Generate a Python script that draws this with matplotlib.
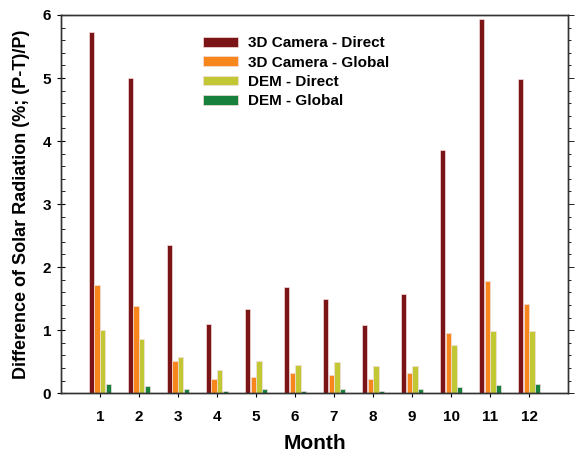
import matplotlib.pyplot as plt
import numpy as np

plt.rcParams['font.family'] = ['Liberation Sans', 'DejaVu Sans']
plt.rcParams['font.weight'] = 'bold'

months = [1, 2, 3, 4, 5, 6, 7, 8, 9, 10, 11, 12]
cam_direct = [5.73, 5.00, 2.35, 1.09, 1.33, 1.68, 1.50, 1.08, 1.58, 3.86, 5.93, 4.99]
cam_global = [1.72, 1.39, 0.51, 0.23, 0.25, 0.32, 0.29, 0.23, 0.32, 0.96, 1.78, 1.42]
dem_direct = [1.00, 0.86, 0.58, 0.36, 0.51, 0.45, 0.49, 0.43, 0.43, 0.76, 0.98, 0.98]
dem_global = [0.14, 0.11, 0.07, 0.04, 0.06, 0.04, 0.06, 0.04, 0.06, 0.10, 0.13, 0.14]

series = [cam_direct, cam_global, dem_direct, dem_global]
labels = ['3D Camera - Direct', '3D Camera - Global', 'DEM - Direct', 'DEM - Global']
colors = ['#7a1416', '#f7861d', '#c2c734', '#17803d']

fig = plt.figure(figsize=(5.75, 4.54), dpi=100)
ax = fig.add_axes([0.106, 0.134, 0.882, 0.833])

x = np.array(months)
w = 0.15
for i, (vals, lab, c) in enumerate(zip(series, labels, colors)):
    ax.bar(x + (i - 1.5) * w, vals, width=w * 0.88, color=c, label=lab,
           edgecolor='#f3dede', linewidth=0.5)

ax.set_xlim(0, 13)
ax.set_ylim(0, 6)
ax.set_xticks(months)
ax.set_xticklabels([str(m) for m in months], fontsize=11, fontweight='bold')
ax.set_yticks([0, 1, 2, 3, 4, 5, 6])
ax.set_yticklabels(['0', '1', '2', '3', '4', '5', '6'], fontsize=11, fontweight='bold')
ax.set_yticks(np.arange(0, 6.01, 0.2), minor=True)
ax.tick_params(axis='y', which='major', direction='inout', length=6, width=0.8, pad=4)
ax.tick_params(axis='y', which='minor', direction='in', length=3, width=0.6)
ax.tick_params(axis='x', direction='out', length=3, width=0.8, pad=9)

ax2 = ax.twinx()
ax2.set_ylim(0, 6)
ax2.set_yticks([0, 1, 2, 3, 4, 5, 6])
ax2.set_yticks(np.arange(0, 6.01, 0.2), minor=True)
ax2.set_yticklabels([])
ax2.tick_params(axis='y', which='major', direction='out', length=4, width=0.6)
ax2.tick_params(axis='y', which='minor', direction='out', length=2.5, width=0.6)

for a in (ax, ax2):
    for s in a.spines.values():
        s.set_color('#333333')
        s.set_linewidth(1.0)

ax.set_xlabel('Month', fontsize=15, fontweight='bold', labelpad=7)
ax.set_ylabel('Difference of Solar Radiation (%; (P-T)/P)', fontsize=13,
              fontweight='bold', labelpad=9)

leg = ax.legend(loc='upper left', bbox_to_anchor=(0.252, 0.98), frameon=False,
                fontsize=11, handlelength=2.3, handleheight=0.6,
                labelspacing=0.35, handletextpad=0.65)
for t in leg.get_texts():
    t.set_fontweight('bold')

fig.savefig('out.png', dpi=100)
